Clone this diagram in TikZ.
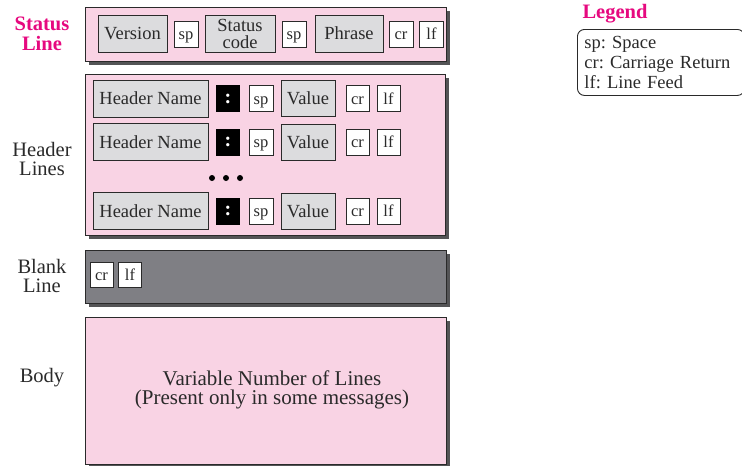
\documentclass[tikz,border=0pt]{standalone}
\usepackage{fontspec}
\setmainfont{Liberation Serif}
\usepackage{xcolor}
\usepackage{tikz}
\usetikzlibrary{shadows}
\frenchspacing
\definecolor{pnk}{HTML}{F9D3E4}
\definecolor{fld}{HTML}{DCDCDE}
\definecolor{blk}{HTML}{7F7F84}
\definecolor{shd}{HTML}{545456}
\definecolor{mag}{HTML}{E6097F}
\definecolor{edge}{HTML}{2A2A2A}
\tikzset{
  panel/.style={draw=edge,line width=1pt,inner sep=0pt,
    drop shadow={shadow xshift=4pt,shadow yshift=-4pt,fill=shd,opacity=1}},
  fieldbox/.style={draw=edge,line width=.9pt,fill=fld,inner sep=0pt,minimum height=37pt,
    text=edge,align=center,font=\fontsize{18.5}{17}\selectfont},
  charbox/.style={draw=edge,line width=.9pt,fill=white,inner sep=0pt,minimum width=24pt,
    minimum height=26pt,text height=11pt,text depth=0pt,text=edge,
    font=\fontsize{16.5}{16}\selectfont},
  colonbox/.style={fill=black,inner sep=0pt,minimum width=24pt,minimum height=27pt,
    text=white,font=\fontsize{20}{20}\selectfont\bfseries},
  sidelabel/.style={align=center,text=edge,font=\fontsize{20.5}{19.5}\selectfont},
  keylabel/.style={align=center,text=mag,font=\fontsize{20.5}{19.5}\selectfont\bfseries},
}
\newcommand{\hdrrow}[2]{%
  \node[fieldbox,minimum width=115pt] (hn#1) at (150.5,#2) {Header Name};
  \node[colonbox] (co#1) at (228,#2) {:};
  \node[charbox] (sp#1) at (261,#2) {sp};
  \node[fieldbox,minimum width=54pt,minimum height=36pt] (va#1) at (308,#2) {Value};
  \node[charbox,minimum width=23pt] (cr#1) at (357.5,#2) {cr};
  \node[charbox,minimum width=23pt] (lf#1) at (388.5,#2) {lf};
}

\begin{document}
\begin{tikzpicture}[x=1pt,y=-1pt]
\useasboundingbox (0,0) rectangle (742,466);
\clip (0,0) rectangle (742,466);
% the four parts of the message
\node[panel,fill=pnk,minimum width=361pt,minimum height=54pt] (statusln) at (265.5,34) {};
\node[panel,fill=pnk,minimum width=360pt,minimum height=161pt] (headers) at (265,154.5) {};
\node[panel,fill=blk,minimum width=361pt,minimum height=53pt] (blankln) at (265.5,276.5) {};
\node[panel,fill=pnk,minimum width=361pt,minimum height=147pt] (body) at (265.5,390.5) {};
\node[keylabel] (lblstatus) at (42,34) {Status\\Line};
\node[sidelabel] (lblheader) at (42,159) {Header\\Lines};
\node[sidelabel] (lblblank) at (42,276) {Blank\\Line};
\node[sidelabel] (lblbody) at (42,378) {Body};
% status line
\node[fieldbox,minimum width=69pt] (version) at (132.5,33.5) {Version};
\node[charbox] (spa) at (186,34) {sp};
\node[fieldbox,minimum width=70pt] (code) at (240,33.5) {Status\\code};
\node[charbox] (spb) at (294,34) {sp};
\node[fieldbox,minimum width=68pt] (phrase) at (349,33.5) {Phrase};
\node[charbox] (cra) at (401,34) {cr};
\node[charbox] (lfa) at (431.5,34) {lf};
% header lines
\hdrrow{1}{98.5}
\hdrrow{2}{142}
\hdrrow{3}{211}
\foreach \i/\x in {1/212,2/226,3/240}
  \node[circle,fill=black,inner sep=0pt,minimum size=6pt] (dot\i) at (\x,178) {};
% blank line
\node[charbox,minimum width=23pt,minimum height=25pt] (crb) at (101.5,274.5) {cr};
\node[charbox,minimum width=23pt,minimum height=25pt] (lfb) at (130,274.5) {lf};
% body
\node[sidelabel,font=\fontsize{21}{19.5}\selectfont] (bodytxt) at (272,390)
  {Variable Number of Lines\\(Present only in some messages)};
% legend
\node[keylabel] (legtitle) at (615,14) {Legend};
\node[draw=edge,line width=.9pt,rounded corners=7pt,anchor=north west,inner xsep=7pt,
  inner ysep=0pt,minimum height=66pt,text width=153pt,align=left,text=edge,
  font=\fontsize{18.5}{20}\selectfont] (legbox) at (577,29)
  {sp: Space\\cr: Carriage Return\\lf: Line Feed};
\end{tikzpicture}
\end{document}
